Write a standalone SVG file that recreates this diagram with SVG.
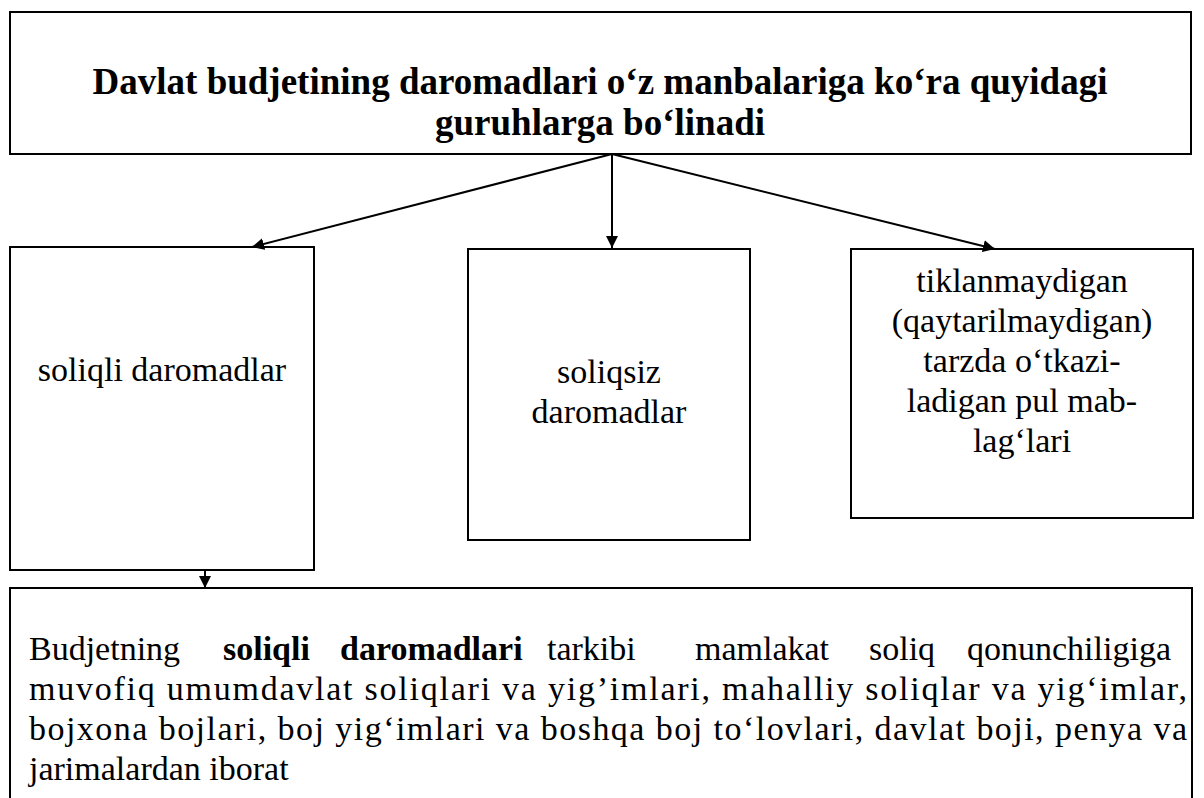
<svg xmlns="http://www.w3.org/2000/svg" width="1204" height="798" viewBox="0 0 1204 798">
<defs>
<marker id="ah" viewBox="0 0 12 12" refX="12" refY="6" markerWidth="12" markerHeight="12" markerUnits="userSpaceOnUse" orient="auto">
<path d="M0,0 L12,6 L0,12 z" fill="#000"/>
</marker>
</defs>
<rect width="1204" height="798" fill="#fff"/>
<g id="top">
<rect x="10" y="12" width="1181" height="142" fill="#fff" stroke="#000" stroke-width="2"/>
<text font-family="Times New Roman, Liberation Serif, Tinos, serif" style="font-family:'Times New Roman','Liberation Serif',serif" font-size="37" font-weight="bold" text-anchor="middle" x="600" y="94">Davlat budjetining daromadlari oʻz manbalariga koʻra quyidagi</text>
<text font-family="Times New Roman, Liberation Serif, Tinos, serif" style="font-family:'Times New Roman','Liberation Serif',serif" font-size="37" font-weight="bold" text-anchor="middle" x="600" y="135">guruhlarga boʻlinadi</text>
</g>
<g id="soliqli">
<rect x="10" y="247" width="304" height="323" fill="#fff" stroke="#000" stroke-width="2"/>
<text font-family="Times New Roman, Liberation Serif, Tinos, serif" style="font-family:'Times New Roman','Liberation Serif',serif" font-size="34" text-anchor="middle" x="162" y="381">soliqli daromadlar</text>
</g>
<g id="soliqsiz">
<rect x="468" y="249" width="282" height="291" fill="#fff" stroke="#000" stroke-width="2"/>
<text font-family="Times New Roman, Liberation Serif, Tinos, serif" style="font-family:'Times New Roman','Liberation Serif',serif" font-size="34" text-anchor="middle" x="609" y="383">soliqsiz</text>
<text font-family="Times New Roman, Liberation Serif, Tinos, serif" style="font-family:'Times New Roman','Liberation Serif',serif" font-size="34" text-anchor="middle" x="609" y="423">daromadlar</text>
</g>
<g id="tiklanmaydigan">
<rect x="851" y="249" width="342" height="269" fill="#fff" stroke="#000" stroke-width="2"/>
<text font-family="Times New Roman, Liberation Serif, Tinos, serif" style="font-family:'Times New Roman','Liberation Serif',serif" font-size="34" text-anchor="middle" x="1022" y="292">tiklanmaydigan</text>
<text font-family="Times New Roman, Liberation Serif, Tinos, serif" style="font-family:'Times New Roman','Liberation Serif',serif" font-size="34" text-anchor="middle" x="1022" y="332">(qaytarilmaydigan)</text>
<text font-family="Times New Roman, Liberation Serif, Tinos, serif" style="font-family:'Times New Roman','Liberation Serif',serif" font-size="34" text-anchor="middle" x="1022" y="372">tarzda oʻtkazi-</text>
<text font-family="Times New Roman, Liberation Serif, Tinos, serif" style="font-family:'Times New Roman','Liberation Serif',serif" font-size="34" text-anchor="middle" x="1022" y="412">ladigan pul mab-</text>
<text font-family="Times New Roman, Liberation Serif, Tinos, serif" style="font-family:'Times New Roman','Liberation Serif',serif" font-size="34" text-anchor="middle" x="1022" y="452">lagʻlari</text>
</g>
<g id="tarkib">
<rect x="10" y="588" width="1182" height="230" fill="#fff" stroke="#000" stroke-width="2"/>
<text font-family="Times New Roman, Liberation Serif, Tinos, serif" style="font-family:'Times New Roman','Liberation Serif',serif" font-size="34" y="660"><tspan x="29">Budjetning</tspan> <tspan x="223" font-weight="bold">soliqli</tspan> <tspan x="340" font-weight="bold">daromadlari</tspan> <tspan x="547">tarkibi</tspan> <tspan x="695">mamlakat</tspan> <tspan x="869">soliq</tspan> <tspan x="967">qonunchiligiga</tspan></text>
<text font-family="Times New Roman, Liberation Serif, Tinos, serif" style="font-family:'Times New Roman','Liberation Serif',serif" font-size="34" x="29" y="700" textLength="1158" lengthAdjust="spacing">muvofiq umumdavlat soliqlari va yig’imlari, mahalliy soliqlar va yigʻimlar,</text>
<text font-family="Times New Roman, Liberation Serif, Tinos, serif" style="font-family:'Times New Roman','Liberation Serif',serif" font-size="34" x="29" y="740" textLength="1158" lengthAdjust="spacing">bojxona bojlari, boj yigʻimlari va boshqa boj toʻlovlari, davlat boji, penya va</text>
<text font-family="Times New Roman, Liberation Serif, Tinos, serif" style="font-family:'Times New Roman','Liberation Serif',serif" font-size="34" x="29" y="780">jarimalardan iborat</text>
</g>
<g id="connectors" stroke="#000" stroke-width="2" fill="none">
<line x1="612" y1="154" x2="252" y2="247" marker-end="url(#ah)"/>
<line x1="612" y1="154" x2="612" y2="248" marker-end="url(#ah)"/>
<line x1="612" y1="154" x2="995" y2="249" marker-end="url(#ah)"/>
<line x1="205" y1="570" x2="205" y2="588" marker-end="url(#ah)"/>
</g>
</svg>
